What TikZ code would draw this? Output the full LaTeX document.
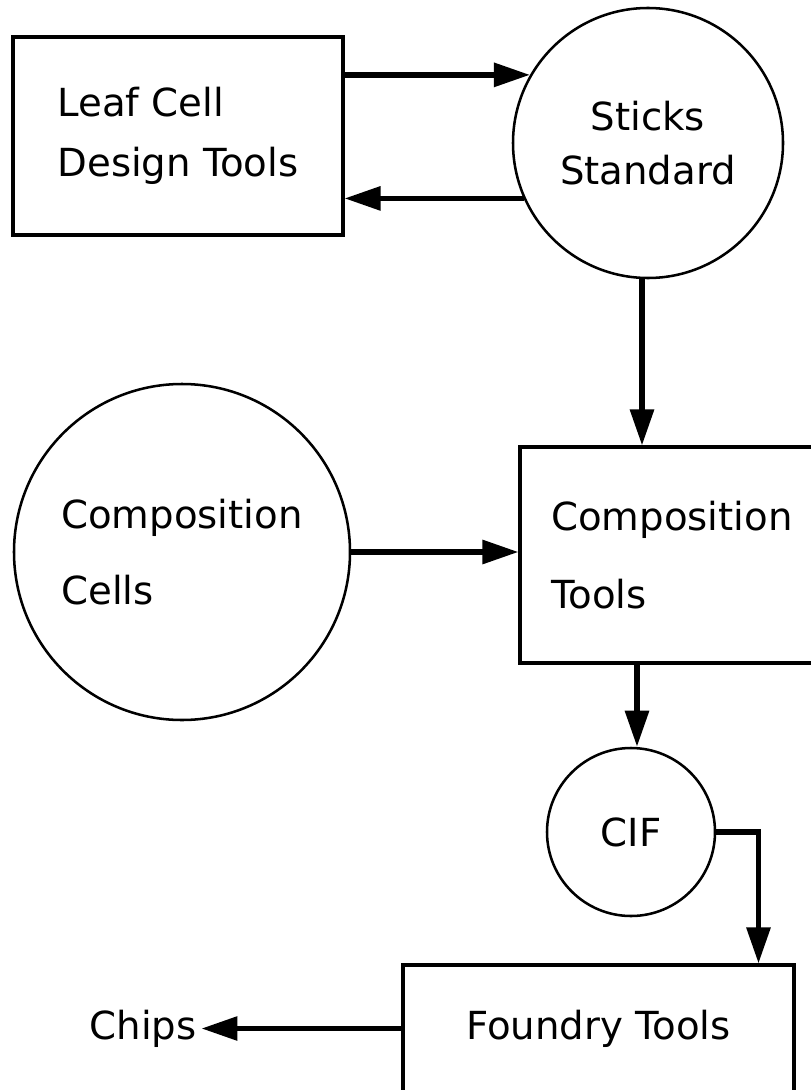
\documentclass[tikz,border=0pt]{standalone}
\usepackage{fontspec}
\setmainfont{DejaVu Sans}
\usepackage{tikz}
\usetikzlibrary{arrows.meta, positioning, calc}

\begin{document}
\begin{tikzpicture}[
    node distance=0.4cm and 0.6cm,
    box/.style={rectangle, draw, line width=2.2pt, inner sep=0pt},
    disc/.style={circle, draw, line width=1.8pt, inner sep=0pt},
    arrow/.style={-{Triangle[length=0.9cm, width=0.58cm]}, line width=3.8pt}
]
\useasboundingbox (0,0) rectangle (20.25,-27.25);

\node[box, minimum width=8.25cm, minimum height=4.95cm, align=left,
      font=\fontsize{27.5}{42.7}\selectfont] (leaf) at (4.45,-3.4) {Leaf Cell\\Design Tools};
\node[disc, minimum size=6.75cm, align=center,
      font=\fontsize{27.5}{38.4}\selectfont] (sticks) at (16.2,-3.575) {Sticks\\Standard};

\node[disc, minimum size=8.4cm, align=left,
      font=\fontsize{27.5}{54}\selectfont] (compcells) at (4.55,-13.8) {Composition\\Cells};
\node[box, minimum width=7.6cm, minimum height=5.4cm, align=left,
      font=\fontsize{27.5}{55.5}\selectfont] (comptools) at (16.8,-13.875) {Composition\\Tools};

\node[disc, minimum size=4.2cm, font=\fontsize{27.5}{32}\selectfont] (cif) at (15.775,-20.8) {CIF};
\node[box, minimum width=9.775cm, minimum height=3.175cm,
      font=\fontsize{27.5}{32}\selectfont] (foundry) at (14.9625,-25.7125) {Foundry Tools};
\node[font=\fontsize{27.5}{32}\selectfont, left=5cm of foundry] (chips) {Chips};

\draw[arrow] (leaf.east |- sticks.150) -- (sticks.150);
\draw[arrow] (sticks.204) -- (leaf.east |- sticks.204);
\draw[arrow] ([xshift=-0.15cm]sticks.south) -- ([xshift=-0.15cm]sticks.south |- comptools.north);
\draw[arrow] (compcells.east) -- (compcells.east -| comptools.west);
\draw[arrow] ([xshift=0.15cm]cif.north |- comptools.south) -- ([xshift=0.15cm]cif.north);
\draw[arrow] (cif.east) -| ([xshift=4cm]foundry.north);
\draw[arrow] (foundry.west) -- (chips.east);

\end{tikzpicture}
\end{document}
